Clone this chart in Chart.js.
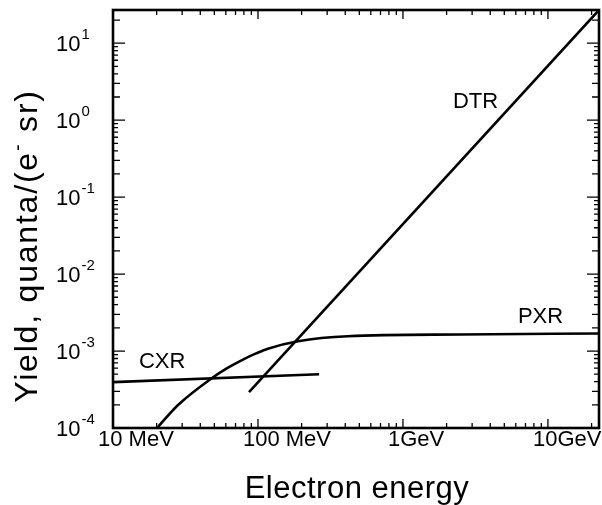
<!DOCTYPE html>
<html>
<head>
<meta charset="utf-8">
<script src="https://cdn.jsdelivr.net/npm/chart.js@4.4.0/dist/chart.umd.min.js"></script>
<style>
  html, body { margin: 0; padding: 0; background: #fff; }
  #wrap { width: 602px; height: 505px; position: relative; }
</style>
</head>
<body>
<div id="wrap"><canvas id="yieldChart"></canvas></div>
<script>
// energies in MeV, yields in quanta/(e- sr)
const cxrEnergy = [10, 264];
const cxrYield = [3.94e-4, 5.0e-4];

const pxrEnergy = [20.4, 28.1, 47.4, 62.1, 80, 97, 117, 189, 417, 2500, 22500];
const pxrYield = [1.03e-4, 1.99e-4, 4.36e-4, 6.07e-4, 7.87e-4, 9.31e-4, 1.074e-3, 1.343e-3, 1.56e-3, 1.64e-3, 1.69e-3];

const dtrEnergy = [86.7, 22500];
const dtrYield = [2.92e-4, 27];

const xTickValues = [10, 100, 1000, 10000];
const xTickLabels = ["10 MeV", "100 MeV", "1GeV", "10GeV"];
const yTickExponents = [-4, -3, -2, -1, 0, 1];

const seriesNames = ["CXR", "PXR", "DTR"];
const seriesLabelEnergy = [15.1, 6210, 2213];
const seriesLabelYield = [5.97e-4, 2.28e-3, 1.42];

const X_MIN = 10, X_MAX = 22500;
const Y_MIN = 1e-4, Y_MAX = 27;
const FONT = "'Liberation Sans', Arial, sans-serif";

function toPoints(xs, ys) {
  return xs.map((x, i) => ({ x, y: ys[i] }));
}

// frame, inward ticks on all four sides, labels with superscripts
const framePlugin = {
  id: "framePlugin",
  afterDatasetsDraw(chart) {
    const ctx = chart.ctx;
    const { left, right, top, bottom } = chart.chartArea;
    const xs = chart.scales.x;
    const ys = chart.scales.y;
    ctx.save();
    ctx.strokeStyle = "#000";
    ctx.fillStyle = "#000";

    // ticks
    ctx.lineWidth = 1.3;
    ctx.beginPath();
    for (let e = 1; e <= 4; e++) {
      for (let m = 1; m <= 9; m++) {
        const v = m * Math.pow(10, e);
        if (v < X_MIN || v > X_MAX) continue;
        const px = xs.getPixelForValue(v);
        const len = m === 1 ? 9 : 5;
        ctx.moveTo(px, bottom); ctx.lineTo(px, bottom - len);
        ctx.moveTo(px, top); ctx.lineTo(px, top + len);
      }
    }
    for (let e = -4; e <= 1; e++) {
      for (let m = 1; m <= 9; m++) {
        const v = m * Math.pow(10, e);
        if (v < Y_MIN || v > Y_MAX) continue;
        const py = ys.getPixelForValue(v);
        const len = m === 1 ? 12 : (m < 4 ? 7 : 5);
        ctx.moveTo(left, py); ctx.lineTo(left + len, py);
        ctx.moveTo(right, py); ctx.lineTo(right - len, py);
      }
    }
    ctx.stroke();

    // frame
    ctx.lineWidth = 2.6;
    ctx.strokeRect(left, top, right - left, bottom - top);

    // x tick labels
    ctx.font = "22px " + FONT;
    ctx.textAlign = "left";
    ctx.textBaseline = "alphabetic";
    xTickValues.forEach((v, i) => {
      const px = xs.getPixelForValue(v);
      ctx.fillText(xTickLabels[i], px - 15, 446);
    });

    // y tick labels 10^n
    yTickExponents.forEach((e) => {
      const py = ys.getPixelForValue(Math.pow(10, e));
      ctx.font = "22px " + FONT;
      ctx.fillText("10", 56, py + 8);
      const w = ctx.measureText("10").width;
      ctx.font = "15px " + FONT;
      ctx.fillText(String(e), 56 + w + 1, py - 4);
    });

    // series labels
    ctx.font = "22px " + FONT;
    seriesNames.forEach((name, i) => {
      const px = xs.getPixelForValue(seriesLabelEnergy[i]);
      const py = ys.getPixelForValue(seriesLabelYield[i]);
      ctx.fillText(name, px, py);
    });

    // x axis title
    ctx.font = "31px " + FONT;
    ctx.textAlign = "center";
    ctx.letterSpacing = "0.5px";
    ctx.fillText("Electron energy", 357, 498);

    // y axis title, rotated, with superscript minus
    const parts = [
      { t: "Yield, quanta/(e", size: 32, dy: 0 },
      { t: "-", size: 20, dy: -13 },
      { t: " sr)", size: 32, dy: 0 },
    ];
    ctx.letterSpacing = "1.8px";
    ctx.textAlign = "left";
    let total = 0;
    parts.forEach((p) => {
      ctx.font = p.size + "px " + FONT;
      p.w = ctx.measureText(p.t).width;
      total += p.w;
    });
    ctx.translate(37, 246);
    ctx.rotate(-Math.PI / 2);
    let cx = -total / 2;
    parts.forEach((p) => {
      ctx.font = p.size + "px " + FONT;
      ctx.fillText(p.t, cx, p.dy);
      cx += p.w;
    });
    ctx.restore();
  },
};

const lineStyle = {
  borderColor: "#000",
  borderWidth: 2.6,
  pointRadius: 0,
  fill: false,
};

new Chart(document.getElementById("yieldChart").getContext("2d"), {
  type: "line",
  data: {
    datasets: [
      { label: "CXR", data: toPoints(cxrEnergy, cxrYield), ...lineStyle, tension: 0 },
      { label: "PXR", data: toPoints(pxrEnergy, pxrYield), ...lineStyle, cubicInterpolationMode: "monotone" },
      { label: "DTR", data: toPoints(dtrEnergy, dtrYield), ...lineStyle, tension: 0 },
    ],
  },
  options: {
    responsive: true,
    maintainAspectRatio: false,
    animation: false,
    layout: { padding: { left: 113, right: 3, top: 10, bottom: 77 } },
    plugins: {
      legend: { display: false },
      tooltip: { enabled: false },
    },
    scales: {
      x: { type: "logarithmic", min: X_MIN, max: X_MAX, display: false },
      y: { type: "logarithmic", min: Y_MIN, max: Y_MAX, display: false },
    },
  },
  plugins: [framePlugin],
});
</script>
</body>
</html>
